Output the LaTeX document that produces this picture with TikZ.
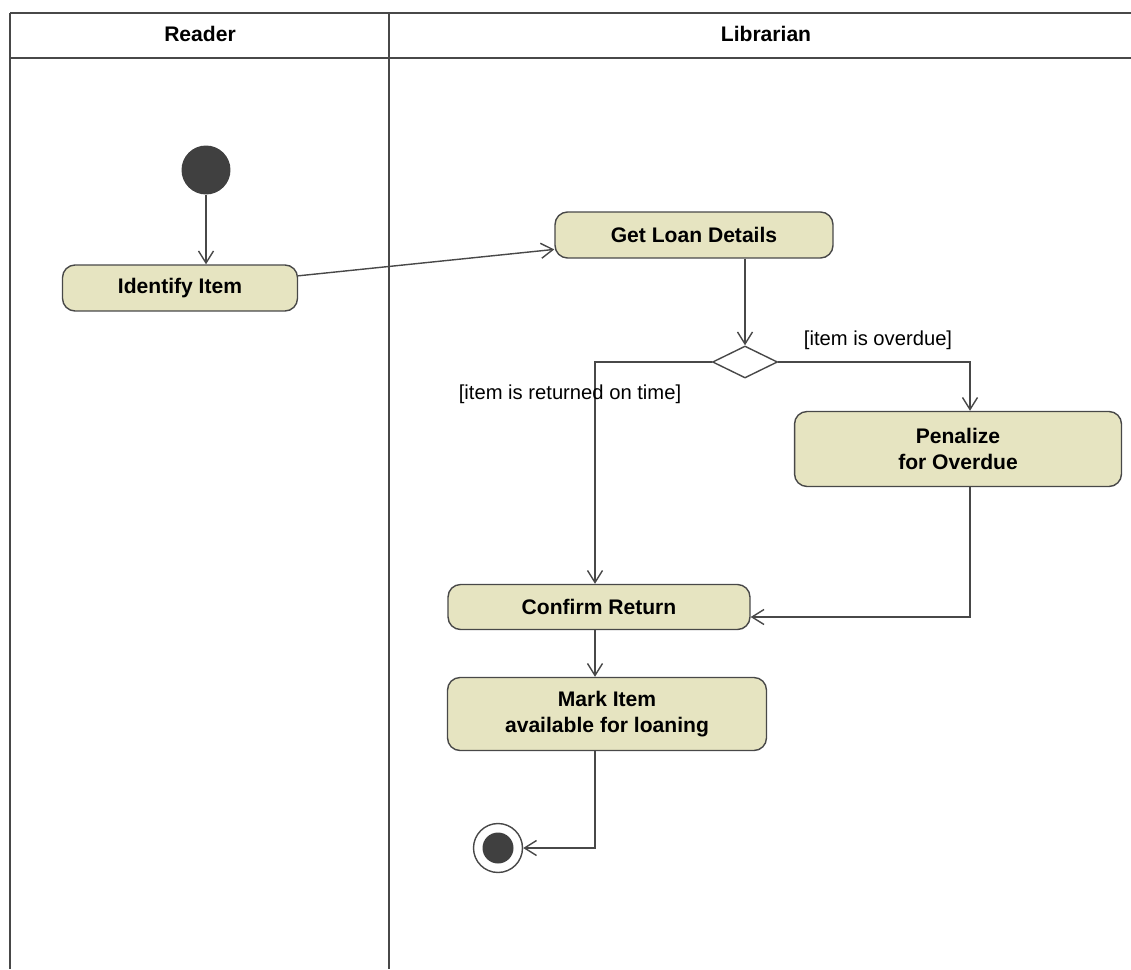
\documentclass[tikz,border=0pt]{standalone}
\usepackage{fontspec}
\setmainfont{Liberation Sans}
\usetikzlibrary{shapes.geometric,arrows.meta,calc}

\definecolor{actfill}{RGB}{230,228,193}
\definecolor{dot}{RGB}{64,64,64}
\definecolor{edge}{RGB}{72,72,72}

\begin{document}
\begin{tikzpicture}[x=0.02cm, y=-0.02cm,
    lane/.style={line width=1.6pt, draw=edge},
    action/.style={rectangle, rounded corners=0.25cm, draw=edge, line width=0.8pt, fill=actfill, font=\fontsize{12}{14.5}\selectfont\bfseries, align=center},
    decision/.style={diamond, draw=edge, line width=0.8pt, fill=white, minimum width=1.3cm, minimum height=0.64cm, inner sep=0pt},
    initial/.style={circle, fill=dot, minimum size=0.98cm, inner sep=0pt},
    final/.style={circle, draw=edge, line width=0.8pt, fill=white, minimum size=0.98cm, inner sep=0pt},
    header/.style={font=\fontsize{12}{14.5}\selectfont\bfseries},
    guard/.style={font=\fontsize{11.5}{14}\selectfont},
    arrow/.style={-{Straight Barb[length=0.24cm, width=0.3cm]}, draw=edge, line width=0.8pt}
]
    \useasboundingbox (0,0) rectangle (1131,969);

    % Couloirs
    \draw[lane] (10,13) -- (1131,13);
    \draw[lane] (10,58) -- (1131,58);
    \draw[lane] (10,13) -- (10,969);
    \draw[lane] (389,13) -- (389,969);
    \node[header] (reader) at (200,34) {Reader};
    \node[header] (librarian) at (766,34) {Librarian};

    % Actions
    \node[initial] (start) at (206,170) {};
    \node[action, minimum width=4.7cm, minimum height=0.92cm] (identify) at (180,288) {Identify Item};
    \node[action, minimum width=5.56cm, minimum height=0.92cm] (getloan) at (694,235) {Get Loan Details};
    \node[decision] (overdue) at (745,362) {};
    \node[action, minimum width=6.54cm, minimum height=1.5cm] (penalize) at (958,449) {Penalize\\for Overdue};
    \node[action, minimum width=6.04cm, minimum height=0.9cm] (confirm) at (599,607) {Confirm Return};
    \node[action, minimum width=6.38cm, minimum height=1.46cm] (mark) at (607,714) {Mark Item\\available for loaning};
    \node[final] (fin) at (498,848) {};
    \node[circle, fill=dot, minimum size=0.62cm, inner sep=0pt] (findot) at (fin) {};

    % Colonnes des fleches
    \coordinate (col) at (595,0);
    \coordinate (cor) at (970,0);

    % Transitions
    \draw[arrow] (start) -- (identify.north -| start);
    \draw[arrow] (identify) -- (getloan);
    \draw[arrow] (getloan.south -| overdue) -- (overdue.north);
    \draw[arrow] (overdue.east) -| (penalize.north -| cor);
    \draw[arrow] (overdue.west) -| (confirm.north -| col);
    \draw[arrow] (penalize.south -| cor) |- ($(confirm.east)+(0,10)$);
    \draw[arrow] (confirm.south -| col) -- (mark.north -| col);
    \draw[arrow] (mark.south -| col) |- (fin);

    % Gardes
    \node[guard] (late) at (878,340) {[item is overdue]};
    \node[guard] (ontime) at (570,394) {[item is returned on time]};

\end{tikzpicture}
\end{document}
